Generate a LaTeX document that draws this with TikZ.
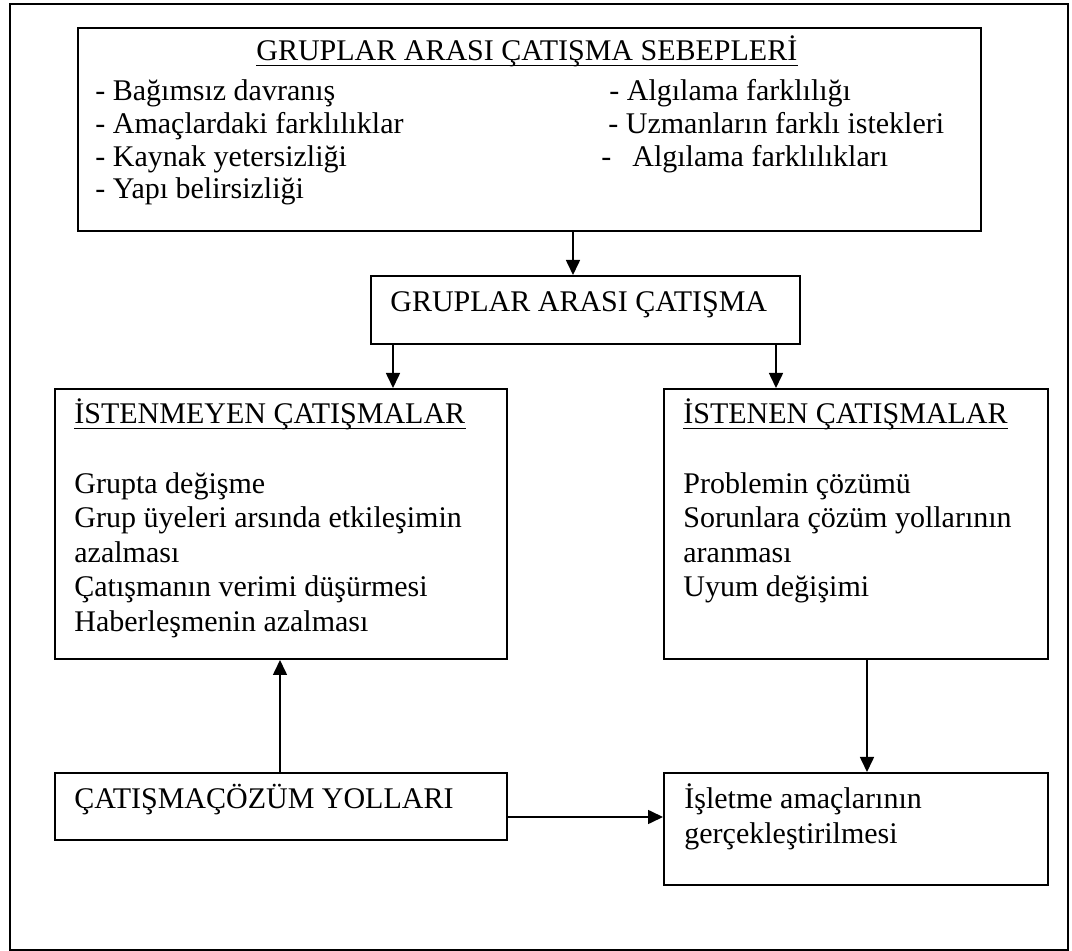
\documentclass[tikz,border=0pt]{standalone}
\usepackage{fontspec}
\setmainfont{Liberation Serif}
\usetikzlibrary{arrows.meta}
\begin{document}
\begin{tikzpicture}[x=0.5pt,y=-0.5pt,
  box/.style={draw, line width=1pt, anchor=north west, inner sep=0pt},
  txt/.style={anchor=base west, inner sep=0pt, font=\fontsize{15pt}{17.25pt}\selectfont},
  arr/.style={-{Triangle[length=7.5pt,width=7pt]}, line width=0.8pt},
  uline/.style={line width=0.8pt}]
\useasboundingbox (0,0) rectangle (1072,951);
% outer frame
\node[box, minimum width=529pt, minimum height=473pt] (frame) at (9,3) {};
% boxes
\node[box, minimum width=451.5pt, minimum height=101.5pt] (top) at (77,27) {};
\node[box, minimum width=214.5pt, minimum height=34pt] (mid) at (370,275) {};
\node[box, minimum width=226pt, minimum height=135pt] (left) at (54,388) {};
\node[box, minimum width=192pt, minimum height=135pt] (right) at (663,388) {};
\node[box, minimum width=226pt, minimum height=33.5pt] (bl) at (54,772) {};
\node[box, minimum width=192pt, minimum height=56pt] (br) at (663,772) {};
% top box text
\node[txt] (t0) at (256,61) {GRUPLAR ARASI ÇATIŞMA SEBEPLERİ};
\draw[uline] ([yshift=-2.25pt]t0.base west) -- ([yshift=-2.25pt]t0.base east);
\node[txt] (t1) at (95,101) {- Bağımsız davranış};
\node[txt] (t2) at (95,134) {- Amaçlardaki farklılıklar};
\node[txt] (t3) at (95,166.5) {- Kaynak yetersizliği};
\node[txt] (t4) at (95,199) {- Yapı belirsizliği};
\node[txt] (t5) at (609,101) {- Algılama farklılığı};
\node[txt] (t6) at (608,134) {- Uzmanların farklı istekleri};
\node[txt] (t7) at (601,166.5) {-\hspace{10.5pt}Algılama farklılıkları};
% middle box text
\node[txt] (m0) at (390,312) {GRUPLAR ARASI ÇATIŞMA};
% left box text
\node[txt] (l0) at (74,424) {İSTENMEYEN ÇATIŞMALAR};
\draw[uline] ([yshift=-2.25pt]l0.base west) -- ([yshift=-2.25pt]l0.base east);
\node[txt] (l1) at (74,493.3) {Grupta değişme};
\node[txt] (l2) at (74,528) {Grup üyeleri arsında etkileşimin};
\node[txt] (l3) at (74,562.5) {azalması};
\node[txt] (l4) at (74,597) {Çatışmanın verimi düşürmesi};
\node[txt] (l5) at (74,631.5) {Haberleşmenin azalması};
% right box text
\node[txt] (r0) at (683,424) {İSTENEN ÇATIŞMALAR};
\draw[uline] ([yshift=-2.25pt]r0.base west) -- ([yshift=-2.25pt]r0.base east);
\node[txt] (r1) at (683,493.3) {Problemin çözümü};
\node[txt] (r2) at (683,528) {Sorunlara çözüm yollarının};
\node[txt] (r3) at (683,562.5) {aranması};
\node[txt] (r4) at (683,597) {Uyum değişimi};
% bottom boxes text
\node[txt] (b0) at (74,809) {ÇATIŞMAÇÖZÜM YOLLARI};
\node[txt] (c1) at (684,809) {İşletme amaçlarının};
\node[txt] (c2) at (684,843.5) {gerçekleştirilmesi};
% connectors
\draw[arr] (573,0 |- top.south) -- (573,0 |- mid.north);
\draw[arr] (393,0 |- mid.south) -- (393,0 |- left.north);
\draw[arr] (776,0 |- mid.south) -- (776,0 |- right.north);
\draw[arr] (280,0 |- bl.north) -- (280,0 |- left.south);
\draw[arr] (867,0 |- right.south) -- (867,0 |- br.north);
\draw[arr] (bl.east |- 0,817) -- (br.west |- 0,817);
\end{tikzpicture}
\end{document}
